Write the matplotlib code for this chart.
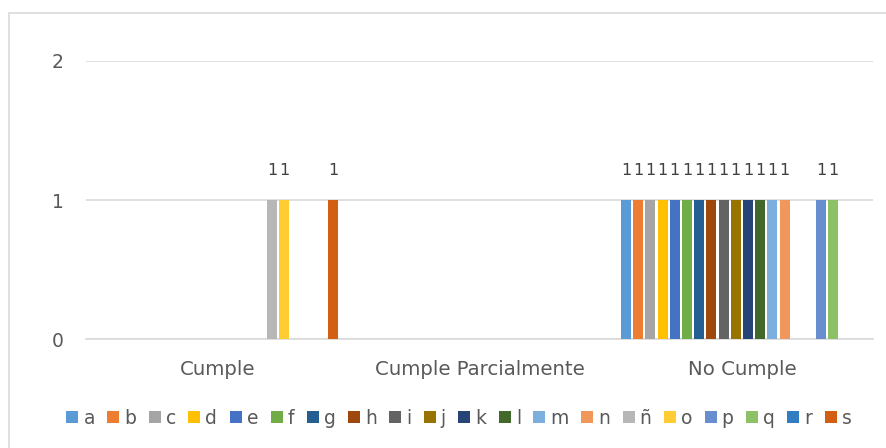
import numpy as np
import matplotlib
matplotlib.use("Agg")
import matplotlib.pyplot as plt
from matplotlib.patches import Rectangle

categories = ["Cumple", "Cumple Parcialmente", "No Cumple"]
series = ["a", "b", "c", "d", "e", "f", "g", "h", "i", "j",
          "k", "l", "m", "n", "ñ", "o", "p", "q", "r", "s"]
nan = np.nan
values = {
    "a": [nan, nan, 1], "b": [nan, nan, 1], "c": [nan, nan, 1], "d": [nan, nan, 1],
    "e": [nan, nan, 1], "f": [nan, nan, 1], "g": [nan, nan, 1], "h": [nan, nan, 1],
    "i": [nan, nan, 1], "j": [nan, nan, 1], "k": [nan, nan, 1], "l": [nan, nan, 1],
    "m": [nan, nan, 1], "n": [nan, nan, 1], "ñ": [1, nan, nan], "o": [1, nan, nan],
    "p": [nan, nan, 1], "q": [nan, nan, 1], "r": [nan, nan, nan], "s": [1, nan, nan],
}
colors = ["#5B9BD5", "#ED7D31", "#A5A5A5", "#FFC000", "#4472C4", "#70AD47",
          "#255E91", "#9E480E", "#636363", "#997300", "#264478", "#43682B",
          "#7CAFDD", "#F1975A", "#B7B7B7", "#FFCD33", "#698ED0", "#8CC168",
          "#327DC2", "#D26012"]
yticks = [0, 1, 2]

W, H = 887, 448
fig = plt.figure(figsize=(W / 100, H / 100), dpi=100)
fig.patch.set_facecolor("white")

# chart frame
fig.add_artist(Rectangle((9 / W, -0.1), 1.2, 1.1 - 13 / H, transform=fig.transFigure,
                         fill=False, edgecolor="#d9d9d9", linewidth=1.2))

ax = fig.add_axes([86 / W, (H - 339) / H, (873 - 86) / W, (339 - 61) / H])
ax.set_facecolor("white")

text_color = "#595959"
font = "DejaVu Sans"
n = len(series)
step = 12.2 / 262.3
width = 10 / 262.3
x = np.arange(len(categories))

for i, (name, col) in enumerate(zip(series, colors)):
    vals = np.array(values[name], dtype=float)
    pos = x + (i - (n - 1) / 2) * step
    ax.bar(pos, np.nan_to_num(vals), width=width, color=col, label=name, zorder=3)
    for px, v in zip(pos, vals):
        if not np.isnan(v):
            ax.text(px, v + 0.155, f"{v:.0f}", ha="center", va="bottom",
                    fontsize=11.5, color="#404040", family=font)

ax.set_xlim(-0.5, len(categories) - 0.5)
ax.set_ylim(0, 2)
ax.set_yticks(yticks)
ax.set_yticklabels([str(t) for t in yticks], fontsize=13.5, color=text_color, family=font)
ax.set_xticks(x)
ax.set_xticklabels(categories, fontsize=14.2, color=text_color, family=font)
ax.tick_params(axis="both", length=0)
ax.tick_params(axis="y", pad=16)
ax.tick_params(axis="x", pad=15)
ax.grid(axis="y", color="#d9d9d9", linewidth=1.2, zorder=0)
for side in ["top", "right", "left"]:
    ax.spines[side].set_visible(False)
ax.spines["bottom"].set_color("#d9d9d9")
ax.spines["bottom"].set_linewidth(1.2)

leg = fig.legend(loc="center", bbox_to_anchor=(459 / W, 1 - 418 / H), ncol=n,
                 frameon=False, handlelength=0.64, handleheight=0.64,
                 handletextpad=0.27, columnspacing=0.66, borderaxespad=0,
                 prop={"family": font, "size": 13.5})
for t in leg.get_texts():
    t.set_color(text_color)

fig.savefig("out.png", dpi=100)
